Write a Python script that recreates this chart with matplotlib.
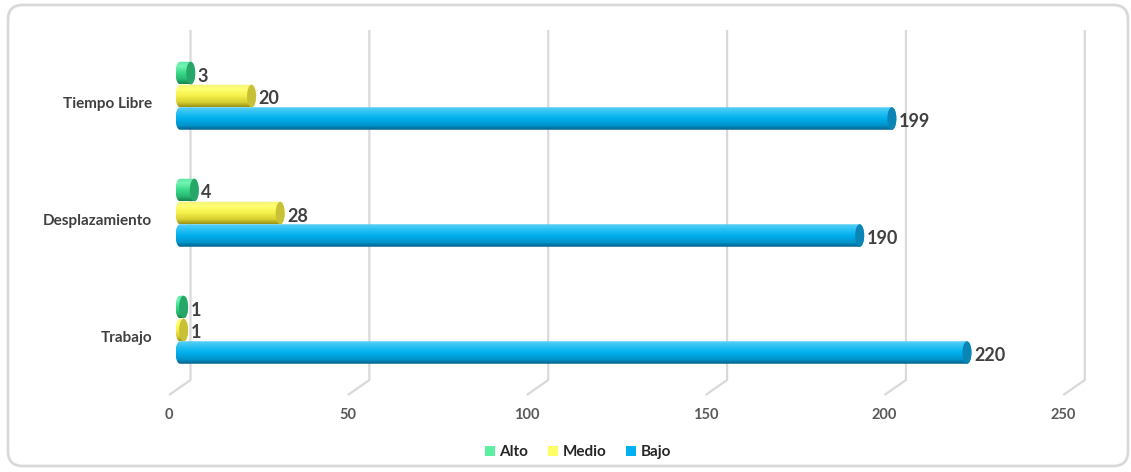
import numpy as np
import matplotlib
matplotlib.use("Agg")
import matplotlib.pyplot as plt
from matplotlib.path import Path
from matplotlib.patches import PathPatch, Ellipse, FancyBboxPatch, Patch
from matplotlib.colors import to_rgb

# ---- data ----
categories = ["Trabajo", "Desplazamiento", "Tiempo Libre"]
series_names = ["Alto", "Medio", "Bajo"]
alto = [1, 4, 3]
medio = [1, 28, 20]
bajo = [220, 190, 199]
x_ticks = [0, 50, 100, 150, 200, 250]

# ---- styling ----
W, H, DPI = 1131, 472, 100
FONT = "Lato"
legend_colors = {"Alto": "#5cf0a0", "Medio": "#ffff66", "Bajo": "#00b0f0"}
body_stops = {
    "Bajo":  [(0.0, "#59d0f5"), (0.22, "#2cc2f4"), (0.5, "#00b0ee"), (0.8, "#0094cb"), (1.0, "#05618a")],
    "Medio": [(0.0, "#f2f27a"), (0.22, "#ffff72"), (0.5, "#f6f14c"), (0.8, "#d6cf30"), (1.0, "#9a9216")],
    "Alto":  [(0.0, "#5ee6a4"), (0.22, "#72f4b2"), (0.5, "#3ddb8b"), (0.8, "#27b772"), (1.0, "#16834e")],
}
cap_colors = {"Bajo": "#0b84b6", "Medio": "#c8c136", "Alto": "#26a768"}

fig = plt.figure(figsize=(W / DPI, H / DPI), dpi=DPI)
fig.patch.set_facecolor("white")

# outer rounded frame (outline only, so the plot shows through)
frame = FancyBboxPatch((8 / W, 6 / H), (1120 / W), (461 / H),
                       boxstyle="round,pad=0,rounding_size=0.013",
                       transform=fig.transFigure, facecolor="none",
                       edgecolor="#d9d9d9", linewidth=2, zorder=0,
                       mutation_aspect=W / H)
fig.patches.append(frame)

# plot area: x in data units, y in category units (117 px per group)
zero_px, full_px = 180, 1074.3     # pixel columns of x=0 and x=250
ux = (full_px - zero_px) / 250.0    # px per data unit
x_lo = -6.0
left_px = zero_px + x_lo * ux
group_px = 117.0
ref_px = 330.0          # pixel row of the first group centre
top_px, bot_px = 20, 400
ax = fig.add_axes([left_px / W, (H - bot_px) / H, (full_px - left_px) / W, (bot_px - top_px) / H])

def set_limits():
    ax.set_xlim(x_lo, 250)
    ax.set_ylim((ref_px - bot_px) / group_px, (ref_px - top_px) / group_px)

set_limits()
ax.axis("off")

def px_x(p):
    return p / ux
def px_y(p):
    return p / group_px

# back-wall gridlines with floor diagonals
grid_top = px_y(ref_px - 30)
grid_floor_back = px_y(ref_px - 380)
grid_floor_front = px_y(ref_px - 395)
for t in x_ticks:
    xb = t + px_x(10.5)
    xf = t - px_x(11)
    ax.plot([xb, xb, xf], [grid_top, grid_floor_back, grid_floor_front],
            color="#d9d9d9", lw=1.6, solid_capstyle="butt", zorder=1, clip_on=False)
    ax.text(xf, px_y(ref_px - 415), str(t), ha="center", va="center",
            fontsize=10.5, fontweight="bold", color="#595959", family=FONT, clip_on=False)

def gradient_rows(stops, n=64):
    ts = np.linspace(0, 1, n)
    pos = [s[0] for s in stops]
    cols = np.array([to_rgb(s[1]) for s in stops])
    rgb = np.stack([np.interp(ts, pos, cols[:, k]) for k in range(3)], axis=1)
    return rgb.reshape(n, 1, 3)

def cylinder(value, yc, h, name, z):
    rx = px_x(4.5)
    th = np.linspace(np.pi / 2, 3 * np.pi / 2, 40)
    left = np.column_stack([0 + rx * np.cos(th), yc + h / 2 * np.sin(th)])
    th2 = np.linspace(-np.pi / 2, np.pi / 2, 40)
    right = np.column_stack([value + rx * np.cos(th2), yc + h / 2 * np.sin(th2)])
    verts = np.vstack([left, right, left[:1]])
    codes = [Path.MOVETO] + [Path.LINETO] * (len(verts) - 2) + [Path.CLOSEPOLY]
    outline = PathPatch(Path(verts, codes), facecolor="none", edgecolor="none", zorder=z)
    ax.add_patch(outline)
    im = ax.imshow(gradient_rows(body_stops[name]), extent=[-rx, value + rx, yc - h / 2, yc + h / 2],
                   origin="upper", aspect="auto", interpolation="bilinear", zorder=z)
    im.set_clip_path(outline)
    ax.add_patch(Ellipse((value, yc), 2 * rx, h, facecolor=cap_colors[name],
                         edgecolor="none", zorder=z + 0.1))
    ax.text(value + px_x(7), yc - px_y(3), f"{value}", ha="left", va="center",
            fontsize=13, fontweight="bold", color="#404040", family=FONT, zorder=z + 0.2)

bar_h = px_y(22.5)
offsets = {"Alto": px_y(23), "Medio": 0.0, "Bajo": -px_y(22.5)}
values = {"Alto": alto, "Medio": medio, "Bajo": bajo}
zorders = {"Bajo": 3, "Medio": 4, "Alto": 5}
for i, cat in enumerate(categories):
    for name in ["Bajo", "Medio", "Alto"]:
        cylinder(values[name][i], i + offsets[name], bar_h, name, zorders[name])
    ax.text(px_x(152 - zero_px), i - px_y(8), cat, ha="right", va="center",
            fontsize=11, fontweight="bold", color="#404040", family=FONT, clip_on=False)

set_limits()

handles = [Patch(facecolor=legend_colors[n], edgecolor="none", label=n) for n in series_names]
leg = fig.legend(handles=handles, loc="center", bbox_to_anchor=(578 / W, 1 - 452 / H), ncol=3,
                 frameon=False, handlelength=0.65, handleheight=0.65, handletextpad=0.3,
                 columnspacing=1.3, prop={"family": FONT, "weight": "bold", "size": 11})
for t in leg.get_texts():
    t.set_color("#262626")

fig.savefig("out.png", dpi=DPI, facecolor="white")
